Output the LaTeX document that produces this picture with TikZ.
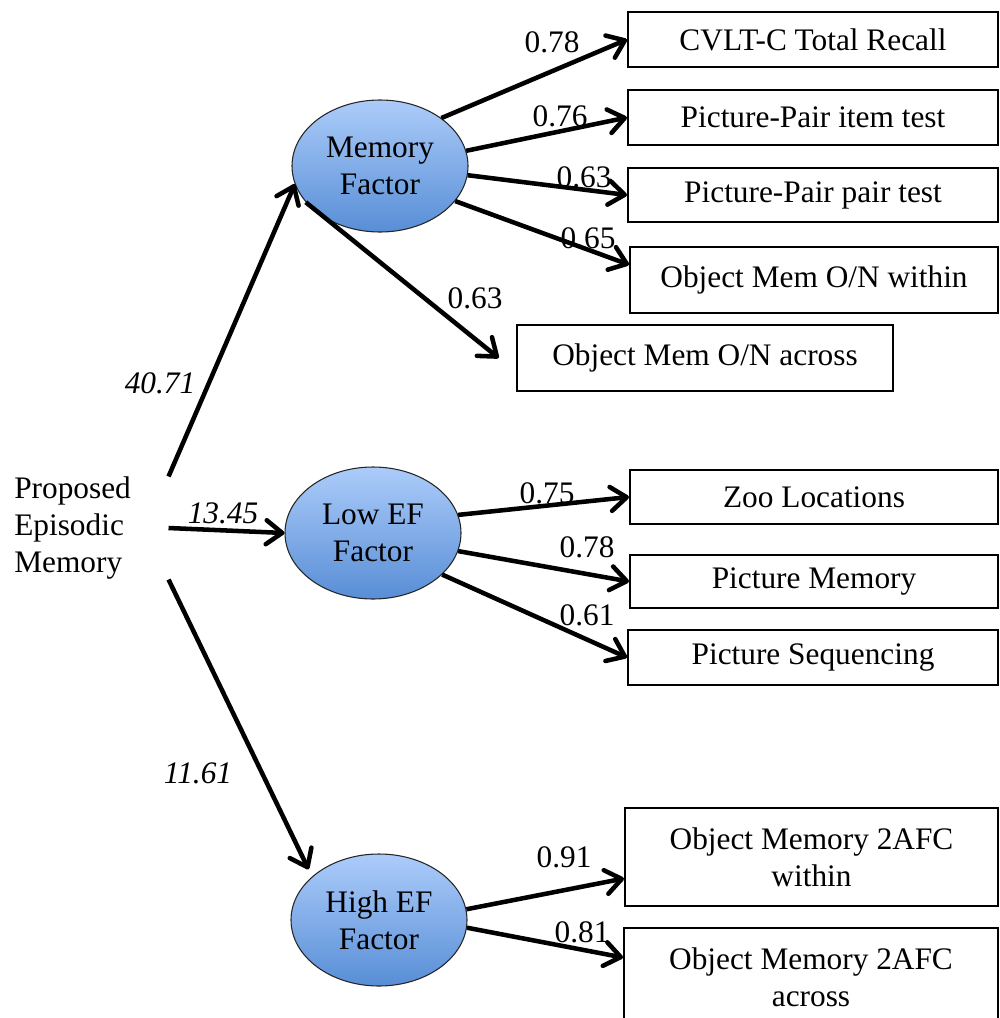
\documentclass[tikz,border=0pt]{standalone}
\usepackage{fontspec}
\setmainfont{Liberation Serif}
\usetikzlibrary{shapes.geometric,arrows.meta,calc}
\definecolor{factortop}{RGB}{172,204,250}
\definecolor{factorbot}{RGB}{88,142,214}

\begin{document}
\begin{tikzpicture}[x=0.75pt,y=0.75pt,yscale=-1,xscale=1,
  font=\fontsize{23.5}{27.75}\selectfont,
  factor/.style={ellipse,draw=black!85,line width=0.8pt,top color=factortop,bottom color=factorbot,minimum width=132pt,minimum height=99pt,inner sep=0pt,align=center},
  measure/.style={draw,line width=1.5pt,minimum width=277.5pt,inner sep=0pt,align=center},
  link/.style={line width=3.4pt,-{Straight Barb[length=12pt,width=18pt,round]}},
  load/.style={inner sep=0.75pt}]
\useasboundingbox (0,0) rectangle (1000,1018);

% Factor Nodes
\node[factor] (mem) at (380,166) {Memory\\Factor};
\node[factor] (lowef) at (373,533) {Low EF\\Factor};
\node[factor] (highef) at (379,920) {High EF\\Factor};

% Text Node
\node[anchor=west,text width=115.5pt,minimum height=72.75pt,inner sep=0pt,align=left] (src) at (14,528) {Proposed\\Episodic\\Memory};

% Measure Boxes
\node[measure,minimum height=41.25pt] (cvlt) at (813,39.5) {CVLT-C Total Recall};
\node[measure,minimum height=41.25pt] (item) at (813,117.5) {Picture-Pair item test};
\node[measure,minimum height=40.5pt] (pair) at (813,195) {Picture-Pair pair test};
\node[measure,minimum width=276pt,minimum height=49.5pt] (within) at (814,280) {Object Mem O/N within};
\node[measure,minimum width=282pt,minimum height=49.5pt] (across) at (705,358) {Object Mem O/N across};
\node[measure,minimum width=276pt,minimum height=40.5pt] (zoo) at (814,497) {Zoo Locations};
\node[measure,minimum width=276pt,minimum height=39.75pt] (picmem) at (814,581.5) {Picture Memory};
\node[measure,minimum height=41.25pt] (picseq) at (813,657.5) {Picture Sequencing};
\node[measure,minimum width=279.75pt,minimum height=73.5pt] (afcw) at (811.5,857) {Object Memory 2AFC\\within};
\node[measure,minimum width=280.5pt,minimum height=73.5pt] (afca) at (811,977) {Object Memory 2AFC\\across};

% Factor Paths
\draw[link] (src.north east) -- (mem.192);
\draw[link] (src.east) -- (lowef.west);
\draw[link,shorten >=6pt] (src.south east) -- (highef.147);

% Loadings
\draw[link] (mem.38) -- (cvlt.west);
\draw[link] (mem.10) -- (item.west);
\draw[link] (mem.-6) -- (pair.west);
\draw[link] (mem.-25) -- ($(within.west)!0.45!(within.north west)$);
\draw[link] (mem.206) -- ([xshift=-13pt]across.west);
\draw[link] (lowef.12) -- (zoo.west);
\draw[link] (lowef.-12) -- (picmem.west);
\draw[link] (lowef.-31) -- (picseq.west);
\draw[link] (highef.7) -- ($(afcw.west)!0.43!(afcw.south west)$);
\draw[link] (highef.-5) -- ($(afca.west)!0.39!(afca.north west)$);

% Text Node
\node[load] (l1) at (160,383) {\textit{40.71}};
\node[load] (l2) at (223,513) {\textit{13.45}};
\node[load] (l3) at (198,773) {\textit{11.61}};
\node[load] (l4) at (552,42) {0.78};
\node[load] (l5) at (560,116) {0.76};
\node[load] (l6) at (584,177) {0.63};
\node[load] (l7) at (588,238) {0.65};
\node[load] (l8) at (475,298) {0.63};
\node[load] (l9) at (547,493) {0.75};
\node[load] (l10) at (587,547) {0.78};
\node[load] (l11) at (587,615) {0.61};
\node[load] (l12) at (564,857) {0.91};
\node[load] (l13) at (582,932) {0.81};

\end{tikzpicture}
\end{document}
